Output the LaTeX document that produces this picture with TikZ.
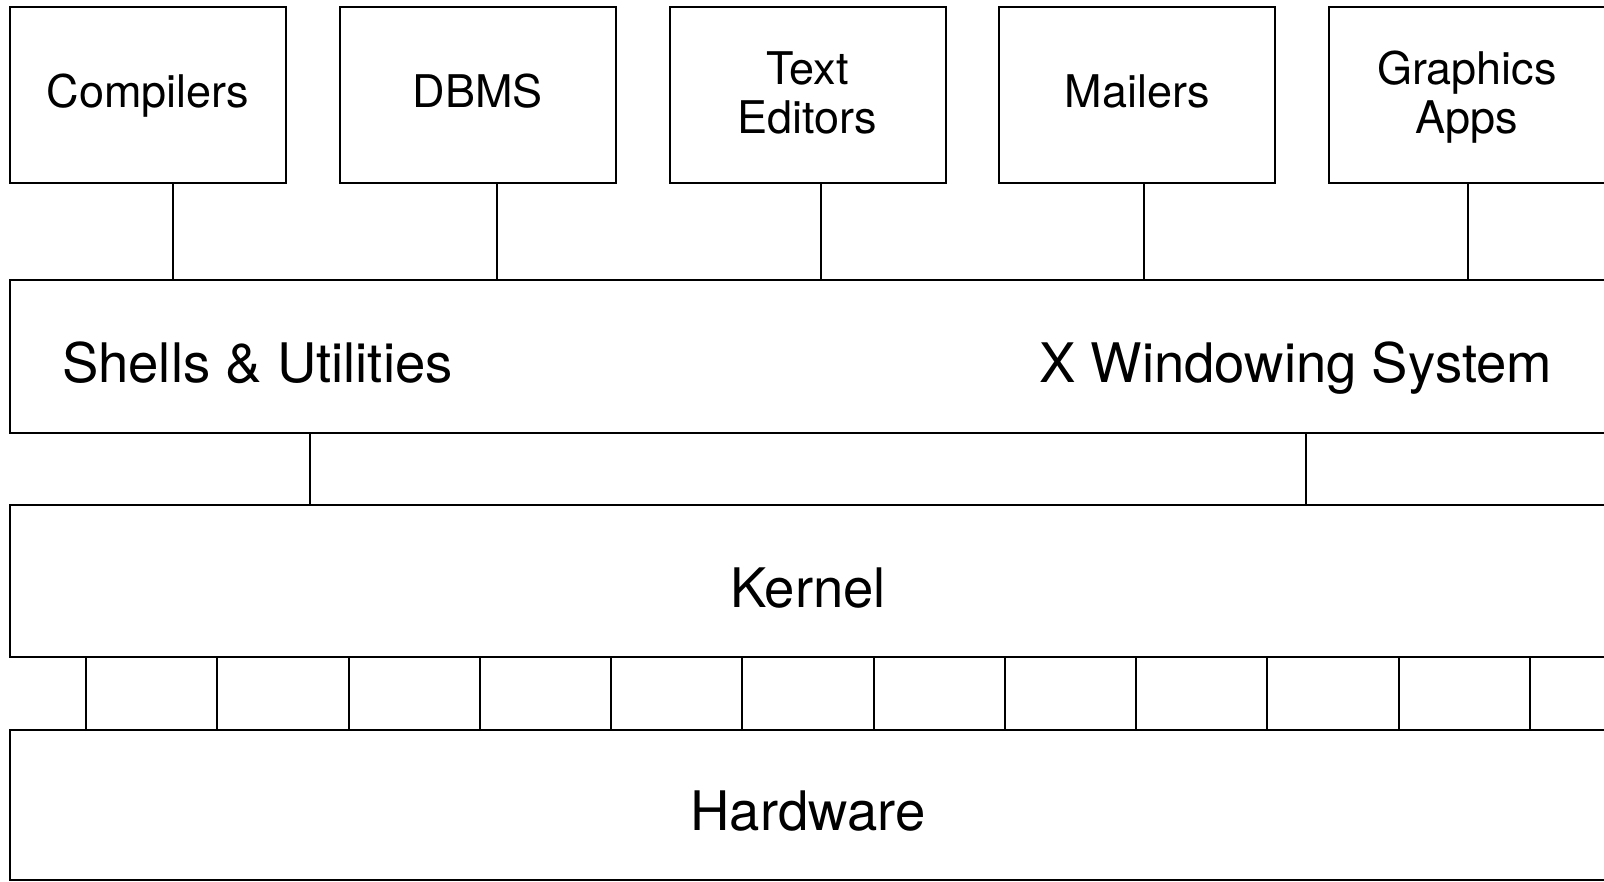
\documentclass[tikz,border=0pt]{standalone}
\usepackage{fontspec}
\setmainfont{TeX Gyre Heros}
\begin{document}
\begin{tikzpicture}[x=1pt,y=-1pt,line width=2pt,
  appbox/.style={draw, minimum width=276pt, minimum height=176pt, inner sep=0pt},
  layerbox/.style={draw, minimum width=1596pt, inner sep=0pt},
  applabel/.style={inner sep=0pt, align=center, font=\fontsize{45}{48.5}\selectfont},
  biglabel/.style={inner sep=0pt, font=\fontsize{54.5}{60}\selectfont}]
\useasboundingbox (0,0) rectangle (1604,881);
\clip (0,0) rectangle (1604,881);

% application boxes
\node[appbox] (comp) at (148,95) {};
\node[appbox] (dbms) at (477.75,95) {};
\node[appbox] (edit) at (807.5,95) {};
\node[appbox] (mail) at (1137.25,95) {};
\node[appbox] (gfx)  at (1467,95) {};

\node[applabel, anchor=base] (compl) at (comp.center |- 0,107) {Compilers};
\node[applabel, anchor=base] (dbmsl) at (dbms.center |- 0,107) {DBMS};
\node[applabel, anchor=north] (editl) at (edit.center |- 0,51) {Text\\Editors};
\node[applabel, anchor=base] (maill) at (mail.center |- 0,107) {Mailers};
\node[applabel, anchor=north] (gfxl) at (gfx.center |- 0,50) {Graphics\\Apps};

% layers
\node[layerbox, minimum height=153pt] (shells) at (808,356.5) {};
\node[layerbox, minimum height=152pt] (kernel) at (808,581) {};
\node[layerbox, minimum height=150pt] (hw) at (808,805) {};

\node[biglabel, anchor=base west] (shellsl) at (61,382) {Shells \& Utilities};
\node[biglabel, anchor=base east] (xwinl) at (1553,382) {X Windowing System};
\node[biglabel, anchor=base] (kernell) at (808,607) {Kernel};
\node[biglabel, anchor=base] (hwl) at (808,830) {Hardware};

% applications to shells
\foreach \b/\dx in {comp/25,dbms/19.5,edit/13,mail/6.5,gfx/1}
  \draw ([xshift=\dx pt]\b.south) -- ([xshift=\dx pt]\b.south |- shells.north);

% shells to kernel
\foreach \dx in {-498,497.5}
  \draw ([xshift=\dx pt]shells.south) -- ([xshift=\dx pt]kernel.north);

% kernel to hardware
\foreach \k [evaluate=\k as \dx using -722+131.27*\k] in {0,...,11}
  \draw ([xshift=\dx pt]kernel.south) -- ([xshift=\dx pt]hw.north);
\end{tikzpicture}
\end{document}
